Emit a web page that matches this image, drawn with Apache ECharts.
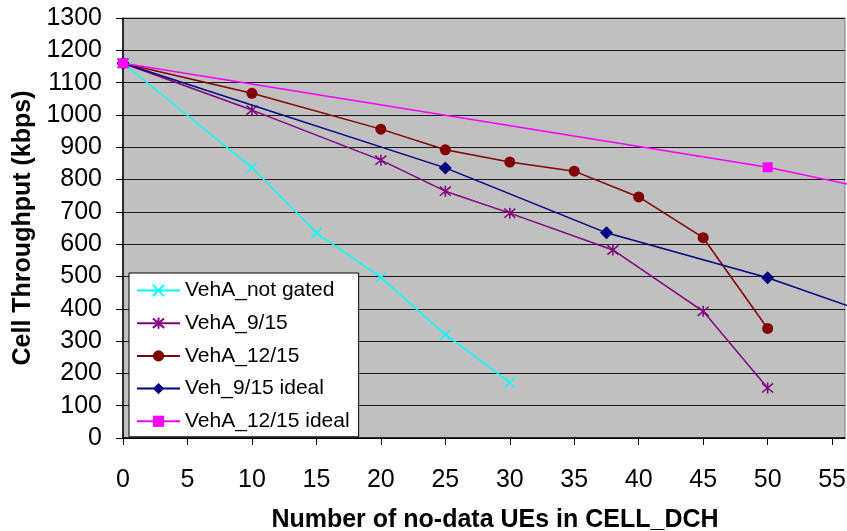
<!DOCTYPE html>
<html><head><meta charset="utf-8">
<script src="https://cdn.jsdelivr.net/npm/echarts@6/dist/echarts.min.js"></script>
<style>html,body{margin:0;padding:0;background:#fff}#c{width:847px;height:531px}</style>
</head><body><div id="c"></div>
<script>
// ---- data ----
const xTicks = [0,5,10,15,20,25,30,35,40,45,50,55];
const yTicks = [0,100,200,300,400,500,600,700,800,900,1000,1100,1200,1300];

const nameNotGated = 'VehA_not gated';
const xNotGated = [0,10,15,20,25,30];
const yNotGated = [1160,837,635,497,320,172];

const name915 = 'VehA_9/15';
const x915 = [0,10,20,25,30,38,45,50];
const y915 = [1160,1015,860,764,696,582,392,155];

const name1215 = 'VehA_12/15';
const x1215 = [0,10,20,25,30,35,40,45,50];
const y1215 = [1160,1067,956,892,854,826,746,620,339];

const name915i = 'Veh_9/15 ideal';
const x915i = [0,25,37.5,50,62.5];
const y915i = [1160,836,635,496,322];

const name1215i = 'VehA_12/15 ideal';
const x1215i = [0,50,62.5];
const y1215i = [1160,838,733];

const xTitle = 'Number of no-data UEs in CELL_DCH';
const yTitle = 'Cell Throughput (kbps)';

// ---- chart ----
const FONT = 'Liberation Sans, Arial, sans-serif';
const pair = (xs, ys) => xs.map((x, i) => [x, ys[i]]);
const X_SYM = 'path://M0,0L10,10M10,0L0,10';
const STAR_SYM = 'path://M0,0L10,10M10,0L0,10M5,-1L5,11';

function mk(name, xs, ys, color, symbol, size, strokeSym, z) {
  return {
    name, type: 'line', data: pair(xs, ys), z,
    symbol, symbolSize: size, showSymbol: true,
    lineStyle: { color, width: 1.5 },
    itemStyle: strokeSym ? { color, borderColor: color, borderWidth: 1.5 } : { color, borderColor: color, borderWidth: 0 },
    emphasis: { disabled: true },
    clip: true
  };
}

const chart = echarts.init(document.getElementById('c'), null, { renderer: 'canvas' });
chart.setOption({
  animation: false,
  textStyle: { fontFamily: FONT },
  grid: { left: 123, top: 18, width: 722, height: 420, show: true, containLabel: false, outerBoundsMode: 'none',
          backgroundColor: '#C0C0C0', borderColor: '#808080', borderWidth: 1 },
  legend: {
    orient: 'vertical', left: 129, top: 273,
    backgroundColor: '#fff', borderColor: '#000', borderWidth: 1,
    padding: [7, 9, 5, 7], itemGap: 11.7, itemWidth: 43, itemHeight: 14,
    textStyle: { fontFamily: FONT, fontSize: 21, color: '#000' },
    data: [nameNotGated, name915, name1215, name915i, name1215i]
  },
  xAxis: {
    type: 'value', min: 0, max: 56, interval: 5,
    name: xTitle, nameLocation: 'middle', nameGap: 70,
    nameTextStyle: { fontFamily: FONT, fontSize: 25, fontWeight: 'bold', color: '#000', padding: [0,0,0,22] },
    axisLine: { show: true, lineStyle: { color: '#000', width: 1.5 } },
    axisTick: { show: true, inside: false, length: 7, lineStyle: { color: '#000' }, customValues: xTicks },
    axisLabel: { margin: 30, fontSize: 25, color: '#000', fontFamily: FONT, customValues: xTicks,
                 formatter: v => String(v) },
    splitLine: { show: false }
  },
  yAxis: {
    type: 'value', min: 0, max: 1300, interval: 100,
    name: yTitle, nameLocation: 'middle', nameGap: 86,
    nameTextStyle: { fontFamily: FONT, fontSize: 25, fontWeight: 'bold', color: '#000' },
    axisLine: { show: true, lineStyle: { color: '#000', width: 1.5 } },
    axisTick: { show: true, inside: false, length: 7, lineStyle: { color: '#000' }, customValues: yTicks },
    axisLabel: { margin: 21, fontSize: 25, color: '#000', fontFamily: FONT, customValues: yTicks,
                 formatter: v => String(v) },
    splitLine: { show: true, lineStyle: { color: '#1a1a1a', width: 1 } }
  },
  series: [
    mk(nameNotGated, xNotGated, yNotGated, '#00FFFF', X_SYM, 10, true, 2),
    mk(name915, x915, y915, '#800080', STAR_SYM, 11, true, 3),
    mk(name1215, x1215, y1215, '#800000', 'circle', 11, false, 4),
    mk(name915i, x915i, y915i, '#000080', 'diamond', 13, false, 5),
    mk(name1215i, x1215i, y1215i, '#FF00FF', 'rect', 10, false, 6)
  ]
});
</script>
</body></html>
